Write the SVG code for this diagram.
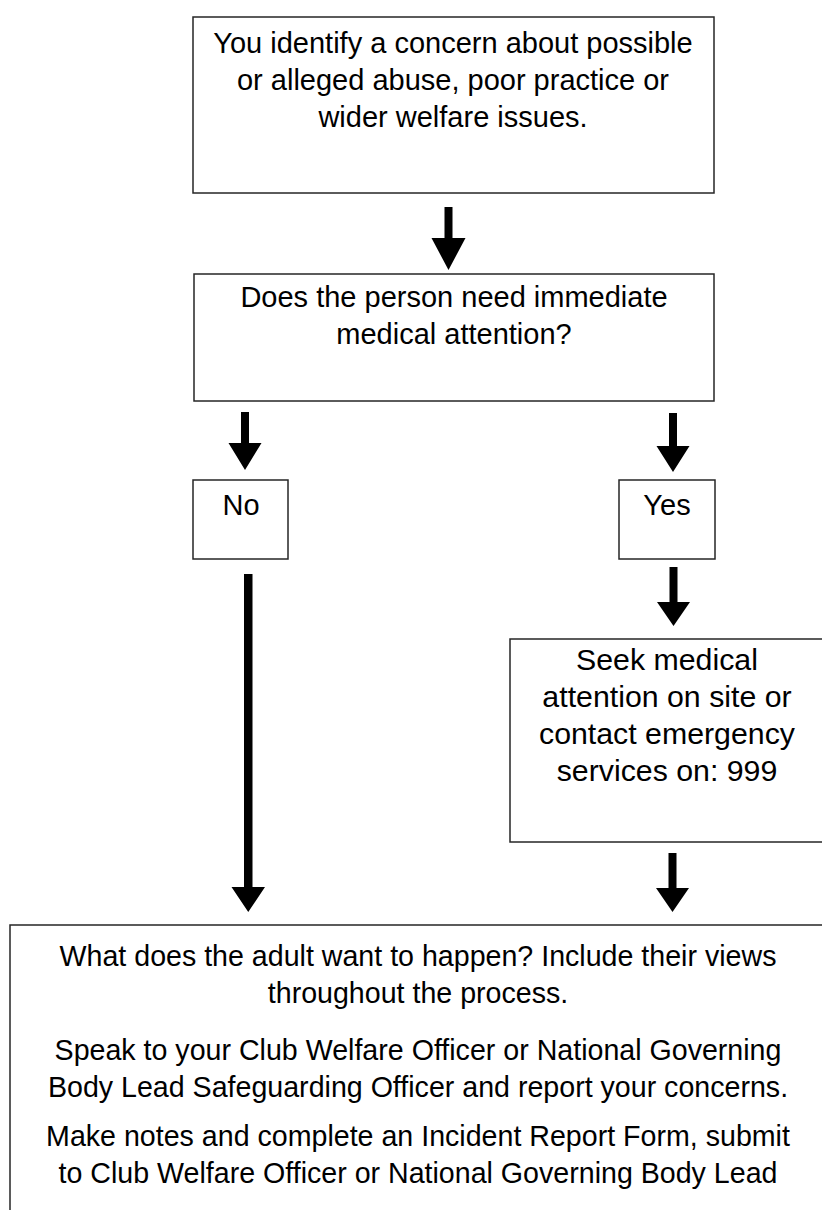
<svg xmlns="http://www.w3.org/2000/svg" width="822" height="1210" viewBox="0 0 822 1210">
<style>
.box{fill:#fff;stroke:#262626;stroke-width:1.5}
.t{font-family:"Liberation Sans",Arial,sans-serif;font-size:29px;fill:#000;text-anchor:middle}
.ts{font-family:"Liberation Sans",Arial,sans-serif;font-size:30.3px;fill:#000;text-anchor:middle}
.tb{font-family:"Liberation Sans",Arial,sans-serif;font-size:28.6px;fill:#000;text-anchor:middle}
.arr{fill:#000}
</style>
<rect width="822" height="1210" fill="#fff"/>
<g id="connectors">
<path class="arr" d="M444.5,207 h8 v31 h13 l-17,32 l-17,-32 h13 z"/>
<path class="arr" d="M241,412 h8 v31 h12.5 l-16.5,27 l-16.5,-27 h12.5 z"/>
<path class="arr" d="M669,413 h8 v33 h12.5 l-16.5,26 l-16.5,-26 h12.5 z"/>
<path class="arr" d="M669.5,567 h8 v35 h12.5 l-16.5,24 l-16.5,-24 h12.5 z"/>
<path class="arr" d="M244,574 h8.5 v313 h12.5 l-16.75,25 l-16.75,-25 h12.5 z"/>
<path class="arr" d="M668.5,853 h8 v35 h12.5 l-16.5,24 l-16.5,-24 h12.5 z"/>
</g>
<g id="node-concern">
<rect class="box" x="193" y="17" width="521" height="176"/>
<text class="t" x="453" y="53">You identify a concern about possible</text>
<text class="t" x="453" y="90">or alleged abuse, poor practice or</text>
<text class="t" x="453" y="127">wider welfare issues.</text>
</g>
<g id="node-question">
<rect class="box" x="194" y="274" width="520" height="127"/>
<text class="t" x="454" y="307">Does the person need immediate</text>
<text class="t" x="454" y="344">medical attention?</text>
</g>
<g id="node-no">
<rect class="box" x="193" y="480" width="95" height="79"/>
<text class="t" x="241" y="515">No</text>
</g>
<g id="node-yes">
<rect class="box" x="619" y="480" width="96" height="79"/>
<text class="t" x="667" y="515">Yes</text>
</g>
<g id="node-medical">
<rect class="box" x="510" y="639" width="320" height="203"/>
<text class="ts" x="667" y="670">Seek medical</text>
<text class="ts" x="667" y="707">attention on site or</text>
<text class="ts" x="667" y="744">contact emergency</text>
<text class="ts" x="667" y="781">services on: 999</text>
</g>
<g id="node-actions">
<rect class="box" x="10" y="925" width="830" height="300"/>
<text class="tb" x="418" y="966">What does the adult want to happen? Include their views</text>
<text class="tb" x="418" y="1003">throughout the process.</text>
<text class="tb" x="418" y="1060">Speak to your Club Welfare Officer or National Governing</text>
<text class="tb" x="418" y="1097">Body Lead Safeguarding Officer and report your concerns.</text>
<text class="tb" x="418" y="1146">Make notes and complete an Incident Report Form, submit</text>
<text class="tb" x="418" y="1183">to Club Welfare Officer or National Governing Body Lead</text>
</g>
</svg>
